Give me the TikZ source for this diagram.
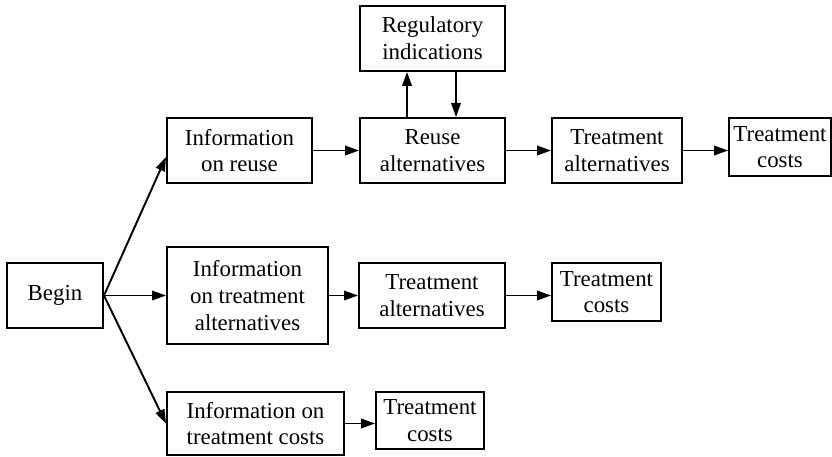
\documentclass[tikz,border=0pt]{standalone}
\usepackage{fontspec}
\setmainfont{Liberation Serif}
\usetikzlibrary{arrows.meta}

\tikzset{
	caja/.style={draw, line width=1.1pt, align=center, inner sep=1pt,
		font=\fontsize{13}{15.2}\selectfont},
	flecha/.style={line width=1.1pt, -{Triangle[length=2.8mm,width=1.9mm]}}
}

\begin{document}
\begin{tikzpicture}

		\useasboundingbox (0,0) rectangle (16.64,-9.12);

		% Inicio
		\node[caja, minimum width=1.92cm, minimum height=1.30cm] (begin) at (1.10,-5.91) {Begin};

		% Fila superior
		\node[caja, minimum width=2.90cm, minimum height=1.30cm] (inforeuse) at (4.79,-3.01) {Information\\on reuse};
		\node[caja, minimum width=2.90cm, minimum height=1.30cm] (reusealt) at (8.65,-3.01) {Reuse\\alternatives};
		\node[caja, minimum width=2.90cm, minimum height=1.30cm] (regind) at (8.65,-0.77) {Regulatory\\indications};
		\node[caja, minimum width=2.60cm, minimum height=1.30cm] (treatalta) at (12.34,-3.01) {Treatment\\alternatives};
		\node[caja, minimum width=2.04cm, minimum height=1.16cm] (treatcosta) at (15.60,-2.94) {Treatment\\costs};

		% Fila del medio
		\node[caja, minimum width=3.22cm, minimum height=1.94cm] (infotreatalt) at (4.95,-5.91) {Information\\on treatment\\alternatives};
		\node[caja, minimum width=2.92cm, minimum height=1.30cm] (treataltb) at (8.64,-5.91) {Treatment\\alternatives};
		\node[caja, minimum width=2.18cm, minimum height=1.16cm] (treatcostb) at (12.13,-5.84) {Treatment\\costs};

		% Fila inferior
		\node[caja, minimum width=3.54cm, minimum height=1.26cm] (infotreatcost) at (5.11,-8.47) {Information on\\treatment costs};
		\node[caja, minimum width=2.16cm, minimum height=1.14cm] (treatcostc) at (8.60,-8.41) {Treatment\\costs};

		% Flechas desde el inicio
		\draw[flecha] (begin.east) -- ([yshift=-0.13cm]inforeuse.west);
		\draw[flecha] (begin.east) -- (infotreatalt.west);
		\draw[flecha] (begin.east) -- (infotreatcost.west);

		% Flechas de cada fila
		\draw[flecha] (inforeuse.east) -- (inforeuse.east -| reusealt.west);
		\draw[flecha] (reusealt.east) -- (reusealt.east -| treatalta.west);
		\draw[flecha] (treatalta.east) -- (treatalta.east -| treatcosta.west);
		\draw[flecha] (infotreatalt.east) -- (infotreatalt.east -| treataltb.west);
		\draw[flecha] (treataltb.east) -- (treataltb.east -| treatcostb.west);
		\draw[flecha] (infotreatcost.east) -- (infotreatcost.east -| treatcostc.west);

		% Ida y vuelta con las indicaciones
		\draw[flecha] ([xshift=-0.51cm]reusealt.north) -- ([xshift=-0.51cm]regind.south);
		\draw[flecha] ([xshift=0.47cm]regind.south) -- ([xshift=0.47cm]reusealt.north);

	\end{tikzpicture}
\end{document}
